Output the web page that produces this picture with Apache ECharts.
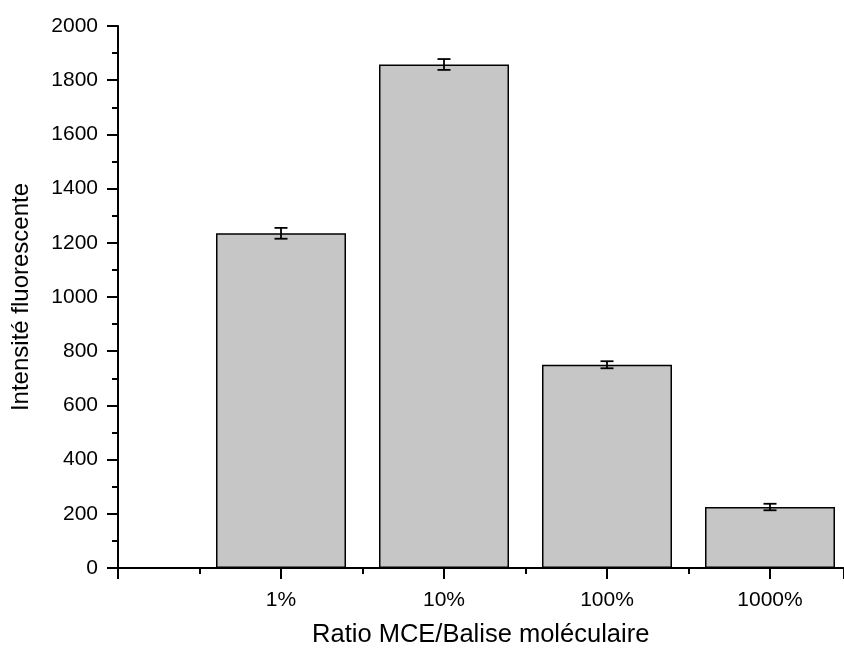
<!DOCTYPE html>
<html><head><meta charset="utf-8">
<script src="https://cdn.jsdelivr.net/npm/echarts@6/dist/echarts.min.js"></script>
<style>html,body{margin:0;padding:0;background:#fff}#c{width:844px;height:649px}</style>
</head><body><div id="c"></div>
<script>
var categories = ['', '1%', '10%', '100%', '1000%'];
var values = [null, 1235, 1858, 750, 225];
var errors = [null, 20, 20, 13, 12];
var yTicks = [0, 200, 400, 600, 800, 1000, 1200, 1400, 1600, 1800, 2000];

var barData = [], errData = [];
for (var i = 0; i < categories.length; i++) {
  if (values[i] != null) {
    barData.push([i, values[i]]);
    errData.push([i, values[i] - errors[i], values[i] + errors[i]]);
  }
}
var font = 'Liberation Sans, Arial, sans-serif';
var chart = echarts.init(document.getElementById('c'), null, {renderer: 'canvas'});
chart.setOption({
  animation: false,
  backgroundColor: '#fff',
  grid: {left: 118, top: 26, height: 542, width: 725.35, containLabel: false, outerBoundsMode: 'none'},
  xAxis: {
    type: 'value', min: 0, max: 4.45, interval: 1,
    name: 'Ratio MCE/Balise moléculaire', nameLocation: 'middle', nameGap: 54,
    nameTextStyle: {fontFamily: font, fontSize: 25.5, color: '#000'},
    axisLine: {show: true, onZero: false, lineStyle: {color: '#000', width: 2}},
    axisTick: {show: true, length: 11, lineStyle: {color: '#000', width: 2}},
    minorTick: {show: true, splitNumber: 2, length: 6, lineStyle: {color: '#000', width: 2}},
    splitLine: {show: false},
    axisLabel: {fontFamily: font, fontSize: 21, color: '#000', margin: 22, showMaxLabel: false,
      formatter: function (v) { return categories[Math.round(v)] || ''; }}
  },
  yAxis: {
    type: 'value', min: 0, max: 2000, interval: 200,
    name: 'Intensité fluorescente', nameLocation: 'middle', nameGap: 85,
    nameTextStyle: {fontFamily: font, fontSize: 24, color: '#000'},
    axisLine: {show: true, lineStyle: {color: '#000', width: 2}},
    axisTick: {show: true, length: 11, lineStyle: {color: '#000', width: 2}},
    minorTick: {show: true, splitNumber: 2, length: 6, lineStyle: {color: '#000', width: 2}},
    splitLine: {show: false},
    axisLabel: {fontFamily: font, fontSize: 21, color: '#000', margin: 20,
      formatter: function (v) { return yTicks.indexOf(v) >= 0 ? String(v) : ''; }}
  },
  series: [
    {
      type: 'bar', data: barData, barWidth: 130,
      itemStyle: {color: '#c6c6c6', borderColor: '#000', borderWidth: 1.5}
    },
    {
      type: 'custom', data: errData, z: 10,
      renderItem: function (params, api) {
        var x = api.value(0);
        var lo = api.coord([x, api.value(1)]);
        var hi = api.coord([x, api.value(2)]);
        var hw = 6.5;
        var st = {stroke: '#000', lineWidth: 1.8};
        return {type: 'group', children: [
          {type: 'line', shape: {x1: lo[0], y1: lo[1], x2: hi[0], y2: hi[1]}, style: st},
          {type: 'line', shape: {x1: lo[0] - hw, y1: lo[1], x2: lo[0] + hw, y2: lo[1]}, style: st},
          {type: 'line', shape: {x1: hi[0] - hw, y1: hi[1], x2: hi[0] + hw, y2: hi[1]}, style: st}
        ]};
      }
    }
  ]
});
</script></body></html>
